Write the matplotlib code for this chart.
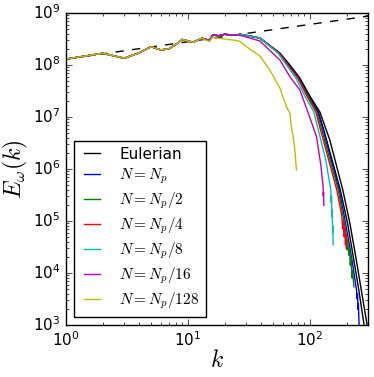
import matplotlib
matplotlib.use('Agg')
import matplotlib.pyplot as plt
import numpy as np

plt.style.use('classic')
plt.rcParams['mathtext.fontset'] = 'cm'
plt.rcParams['figure.facecolor'] = 'white'
plt.rcParams['savefig.facecolor'] = 'white'

# shared low-k part of the spectra
k_common = [1, 2, 3, 4, 5, 6, 7, 8, 9, 10, 11, 12, 13, 14, 15, 16, 17, 18, 19, 20, 21, 22, 23, 24, 25]
E_common = [1.30e8, 1.68e8, 1.35e8, 1.72e8, 2.25e8, 1.95e8, 2.05e8, 2.5e8, 3.1e8, 2.9e8, 2.73e8, 3.0e8,
            3.26e8, 3.12e8, 2.94e8, 3.78e8, 3.7e8, 3.66e8, 3.75e8, 3.9e8, 3.85e8, 3.8e8, 3.75e8, 3.78e8, 3.72e8]

# tails
k_euler = [26.7, 38.9, 56.8, 68.6, 82.8, 100, 120.8, 145.9, 186.4, 212.8, 238.3, 264.3, 295]
E_euler = [3.9e8, 3.31e8, 1.70e8, 1.0e8, 5.62e7, 2.53e7, 1.25e7, 3.61e6, 3.95e5, 9.15e4, 2.03e4, 4.71e3, 1.0e3]

k_black2 = [26.7, 38.9, 55.7, 81.2, 98.1, 117.4, 130.3, 177.8, 203.7, 227.3, 252.1, 278.6]
E_black2 = [3.9e8, 3.31e8, 1.70e8, 5.62e7, 2.53e7, 1.25e7, 5.62e6, 3.95e5, 9.15e4, 2.03e4, 4.71e3, 1.0e3]

k_np1 = [26.7, 38.9, 55.7, 81.2, 97.2, 116.3, 128.5, 174.5, 196.2, 219.7, 241.4, 244, 246, 249, 250, 253.6]
E_np1 = [3.9e8, 3.31e8, 1.70e8, 5.62e7, 2.53e7, 1.25e7, 5.62e6, 3.95e5, 9.15e4, 2.03e4, 4.71e3, 3.2e3,
         4.0e3, 2.0e3, 2.6e3, 1.0e3]

k_np2 = [26.7, 38.9, 55.7, 79.7, 96.3, 114.1, 125.4, 171.2, 191.8, 200, 202, 204, 209, 211, 215, 217, 222, 224, 230]
E_np2 = [3.9e8, 3.31e8, 1.70e8, 5.62e7, 2.53e7, 1.25e7, 5.62e6, 3.95e5, 9.15e4, 5.0e4, 2.8e4, 4.3e4,
         2.2e4, 3.0e4, 1.4e4, 2.0e4, 8.0e3, 1.1e4, 5.4e3]

k_np4 = [26.7, 38.9, 55.7, 79.7, 94.5, 112.0, 122.4, 166.4, 183, 186, 188, 191, 193, 196, 197, 199]
E_np4 = [3.9e8, 3.31e8, 1.70e8, 5.62e7, 2.53e7, 1.25e7, 5.62e6, 3.95e5, 1.25e5, 7.0e4, 1.0e5, 5.0e4,
         7.5e4, 3.5e4, 5.5e4, 3.0e4]

k_np8 = [26.7, 38.9, 54.7, 76.8, 91.0, 107.8, 117.4, 135.2, 148.6, 150, 150.5, 152, 152.5, 154, 154.5, 155.2]
E_np8 = [3.9e8, 3.31e8, 1.70e8, 5.62e7, 2.53e7, 1.25e7, 5.62e6, 1.49e6, 3.95e5, 2.2e5, 3.0e5, 1.2e5,
         1.6e5, 6e4, 8e4, 3.5e4]

k_np16 = [26.7, 38.9, 56.8, 68.6, 82.8, 96.3, 113.5, 123.1, 128.5, 129, 129.6, 130.3]
E_np16 = [3.75e8, 2.9e8, 1.25e8, 5.96e7, 3.31e7, 1.25e7, 4.18e6, 1.19e6, 4.57e5, 3.0e5, 3.6e5, 2.0e5]

k_np128 = [14, 15, 16, 17, 18, 20, 23.5, 26.7, 30.2, 34, 38.9, 47, 56.8, 64.3, 68.6, 70.5, 72, 73, 75.4, 76.5, 77.6]
E_np128 = [3.0e8, 2.85e8, 3.45e8, 3.35e8, 3.26e8, 3.15e8, 3.02e8, 2.85e8, 2.25e8, 1.85e8, 1.5e8, 8.0e7,
           3.6e7, 1.58e7, 1.18e7, 6.5e6, 5.0e6, 4.2e6, 2.3e6, 1.5e6, 9.6e5]

# k^(1/3) reference line, end points
k_ref = [1, 300]
E_ref = [1.3e8, 8.7e8]

labels = ['Eulerian', r'$N=N_p$', r'$N=N_p/2$', r'$N=N_p/4$', r'$N=N_p/8$', r'$N=N_p/16$', r'$N=N_p/128$']
colors = ['k', 'b', 'g', 'r', 'c', 'm', 'y']


def full(k_tail, E_tail):
    kc = np.array(k_common)
    ec = np.array(E_common)
    m = kc < k_tail[0]
    return np.concatenate([kc[m], k_tail]), np.concatenate([ec[m], E_tail])


fig = plt.figure(figsize=(3.74, 3.77), dpi=100)
ax = fig.add_axes([66 / 374, 1 - 325 / 377, 302 / 374, 312 / 377])

ax.plot(k_ref, E_ref, 'k--', lw=1)

tails = [(k_euler, E_euler), (k_np1, E_np1), (k_np2, E_np2), (k_np4, E_np4),
         (k_np8, E_np8), (k_np16, E_np16), (k_np128, E_np128)]
for i, (kt, et) in enumerate(tails):
    kk, ee = full(kt, et)
    ax.plot(kk, ee, color=colors[i], lw=1, label=labels[i])
    if i == 0:
        kk2, ee2 = full(k_black2, E_black2)
        ax.plot(kk2, ee2, color='k', lw=1)

ax.set_xscale('log')
ax.set_yscale('log')
ax.set_xlim(1, 300)
ax.set_ylim(1e3, 1e9)
ax.tick_params(labelsize=11)
ax.set_xlabel(r'$k$', fontsize=17, labelpad=-1)
ax.set_ylabel(r'$E_\omega(k)$', fontsize=17, labelpad=2)

ax.legend(loc='lower left', fontsize=11, handlelength=1.6, handletextpad=1.0,
          fancybox=False, borderaxespad=0.5, labelspacing=0.3)

fig.savefig('out.png', dpi=100)
